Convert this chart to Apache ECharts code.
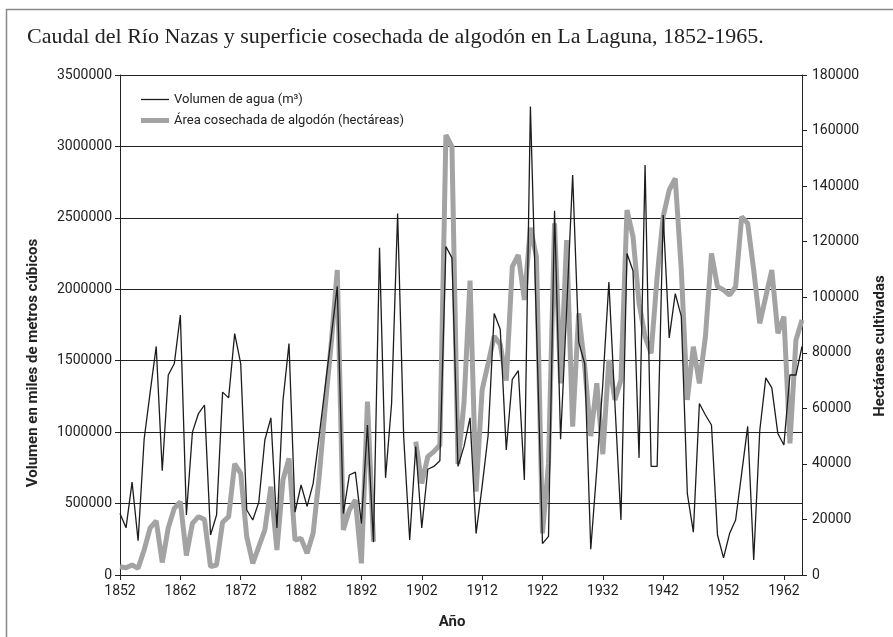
<!DOCTYPE html>
<html>
<head>
<meta charset="utf-8">
<script src="https://cdn.jsdelivr.net/npm/echarts@6/dist/echarts.min.js"></script>
<style>
html,body{margin:0;padding:0;background:#fff;}
#chart{width:893px;height:637px;}
</style>
</head>
<body>
<div id="chart"></div>
<script>
const startYear = 1852;
const endYear = 1965;
const years = [];
for (let y = startYear; y <= endYear; y++) years.push(String(y));

// Volumen de agua (miles de m3), 1852-1965
const volumen = [
  430000, 330000, 650000, 240000, 950000, 1280000, 1600000, 730000, 1400000, 1480000,
  1820000, 420000, 1000000, 1130000, 1190000, 280000, 420000, 1280000, 1240000, 1690000,
  1480000, 455000, 385000, 510000, 945000, 1100000, 330000, 1220000, 1620000, 440000,
  630000, 480000, 640000, 970000, 1320000, 1670000, 2020000, 430000, 700000, 720000,
  360000, 1050000, 230000, 2290000, 680000, 1200000, 2530000, 970000, 245000, 900000,
  330000, 740000, 760000, 800000, 2300000, 2220000, 760000, 900000, 1100000, 290000,
  620000, 980000, 1830000, 1720000, 875000, 1370000, 1430000, 665000, 3280000, 1750000,
  220000, 270000, 2550000, 950000, 1850000, 2800000, 1630000, 1480000, 180000, 740000,
  1340000, 2050000, 1200000, 385000, 2250000, 2130000, 820000, 2870000, 760000, 760000,
  2520000, 1660000, 1970000, 1810000, 570000, 300000, 1200000, 1120000, 1050000, 280000,
  120000, 290000, 385000, 710000, 1040000, 105000, 1010000, 1380000, 1310000, 990000,
  910000, 1400000, 1400000, 1600000
];

// Área cosechada de algodón (hectáreas), 1852-1965
const area = [
  3000, 2600, 3600, 2400, 9000, 17000, 19500, 4500, 17000, 24000,
  26400, 7000, 18600, 21000, 20000, 3000, 3600, 19000, 21000, 40000,
  36600, 13800, 4200, 10200, 16200, 31800, 9000, 34200, 42000, 12600,
  13200, 7800, 15000, 35400, 60600, 83400, 109800, 16200, 23400, 27000,
  4200, 62400, 12000, null, null, null, null, null, null, 48000,
  33000, 42600, 44400, 46800, 158400, 154200, 40000, 62000, 106000, 30000,
  66600, 76200, 86000, 83000, 70000, 111000, 115200, 99000, 125000, 114600,
  15000, 40000, 126600, 69000, 120600, 53400, 94200, 75000, 50000, 69000,
  43500, 77400, 63000, 70200, 131400, 121800, 97800, 85800, 79800, 107400,
  129000, 138600, 142800, 109800, 63000, 82200, 69000, 85800, 115800, 103800,
  102600, 100800, 103800, 129000, 126600, 109800, 90600, 100200, 109800, 87000,
  93000, 47400, 84600, 91800
];

const titleText = 'Caudal del Río Nazas y superficie cosechada de algodón en La Laguna, 1852-1965.';
const nameVol = 'Volumen de agua (m³)';
const nameArea = 'Área cosechada de algodón (hectáreas)';
const leftAxisName = 'Volumen en miles de metros cúbicos';
const rightAxisName = 'Hectáreas cultivadas';
const xAxisName = 'Año';

const colVol = '#1c1c1c';
const colArea = '#a3a3a3';

const chart = echarts.init(document.getElementById('chart'), null, {renderer: 'canvas'});
const sans = 'Roboto, "Open Sans", sans-serif';
const plain = v => String(v);
chart.setOption({
  animation: false,
  backgroundColor: '#fff',
  title: {
    text: titleText,
    left: 22, top: 21,
    textStyle: {fontFamily: '"Liberation Serif", "DejaVu Serif", serif', fontSize: 22, fontWeight: 'normal', color: '#222'}
  },
  legend: {
    orient: 'vertical',
    left: 136, top: 88,
    itemWidth: 28, itemHeight: 10, itemGap: 8,
    data: [
      {name: nameVol, icon: 'path://M0,0H28V1.3H0Z', itemStyle: {color: colVol}},
      {name: nameArea, icon: 'path://M0,0H28V5H0Z', itemStyle: {color: colArea}}
    ],
    textStyle: {fontFamily: sans, fontSize: 13, color: '#222'}
  },
  grid: {left: 120, right: 91, top: 75, bottom: 62, containLabel: false},
  xAxis: {
    type: 'category',
    data: years,
    boundaryGap: false,
    axisLine: {lineStyle: {color: '#222', width: 1}},
    axisTick: {show: true, interval: 9, length: 5, lineStyle: {color: '#222'}},
    axisLabel: {interval: 9, margin: 9, fontFamily: sans, fontSize: 14, color: '#222'},
    splitLine: {show: false}
  },
  yAxis: [
    {
      type: 'value', min: 0, max: 3500000, interval: 500000,
      axisLine: {show: true, lineStyle: {color: '#222'}},
      axisTick: {show: true, length: 5, lineStyle: {color: '#222'}},
      axisLabel: {margin: 8, fontFamily: sans, fontSize: 14, color: '#222', formatter: plain},
      splitLine: {show: true, lineStyle: {color: '#222', width: 1}}
    },
    {
      type: 'value', min: 0, max: 180000, interval: 20000,
      position: 'right',
      axisLine: {show: true, lineStyle: {color: '#222'}},
      axisTick: {show: true, length: 5, lineStyle: {color: '#222'}},
      axisLabel: {margin: 10, fontFamily: sans, fontSize: 14, color: '#222', formatter: plain},
      splitLine: {show: false}
    }
  ],
  series: [
    {
      name: nameVol, type: 'line', yAxisIndex: 0, data: volumen,
      showSymbol: false, symbol: 'none', z: 4,
      lineStyle: {color: colVol, width: 1.3},
      itemStyle: {color: colVol}
    },
    {
      name: nameArea, type: 'line', yAxisIndex: 1, data: area,
      showSymbol: false, symbol: 'none', z: 3, connectNulls: false,
      lineStyle: {color: colArea, width: 5},
      itemStyle: {color: colArea}
    }
  ],
  graphic: [
    {type: 'rect', left: 4, top: 7, shape: {width: 940, height: 700}, style: {fill: 'none', stroke: '#888', lineWidth: 1.5}, silent: true, z: -1},
    {type: 'text', x: 33, y: 363, rotation: Math.PI / 2,
      style: {text: leftAxisName, fontFamily: sans, fontSize: 15, fontWeight: 'bold', fill: '#222', textAlign: 'center', textVerticalAlign: 'middle'}},
    {type: 'text', x: 880, y: 346, rotation: Math.PI / 2,
      style: {text: rightAxisName, fontFamily: sans, fontSize: 15, fontWeight: 'bold', fill: '#222', textAlign: 'center', textVerticalAlign: 'middle'}},
    {type: 'text', x: 452, y: 622,
      style: {text: xAxisName, fontFamily: sans, fontSize: 15, fontWeight: 'bold', fill: '#222', textAlign: 'center', textVerticalAlign: 'middle'}}
  ]
});
</script>
</body>
</html>
